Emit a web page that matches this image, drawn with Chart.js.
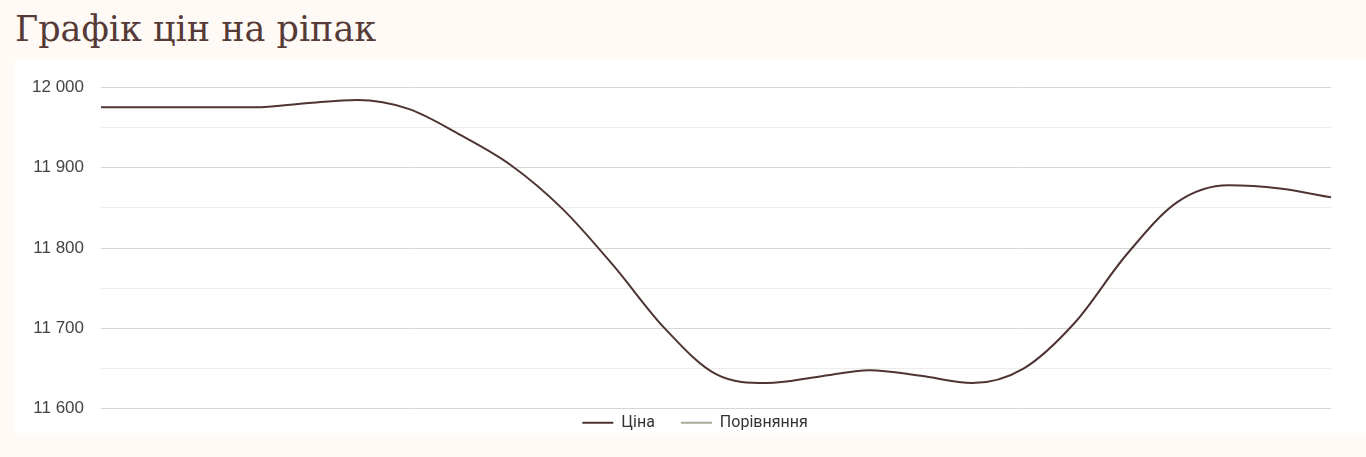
<!DOCTYPE html>
<html>
    <head>
        <meta charset="utf-8">
        <script src="https://cdn.jsdelivr.net/npm/chart.js"></script>
        <title>Графік цін на ріпак</title>
        <style>
            html, body { margin: 0; padding: 0; background: #fffaf5; }
            body { width: 1366px; height: 457px; overflow: hidden; position: relative; }
            h1 {
                position: absolute; left: 15px; top: 9px; margin: 0;
                font-family: "DejaVu Serif", serif; font-weight: normal;
                font-size: 35px; line-height: 40px; color: #553a37;
            }
            .card { position: absolute; left: 15px; top: 60px; width: 1351px; height: 373px; background: #fff; }
            .plot { position: absolute; left: 15px; top: 60px; width: 1351px; height: 376px; }
        </style>
    </head>
    <body>
        <h1>Графік цін на ріпак</h1>
        <div class="card"></div>
        <div class="plot">
            <canvas id="myChart"></canvas>
        </div>
        <script>
            // one point per day, x axis is hidden in the original
            const days = ['1', '2', '3', '4', '5', '6', '7', '8', '9', '10', '11', '12', '13',
                          '14', '15', '16', '17', '18', '19', '20', '21', '22', '23', '24', '25'];
            const prices = [11975, 11975, 11975, 11975, 11980, 11984, 11973, 11941, 11903, 11849, 11778, 11700, 11643,
                            11632, 11640, 11648, 11641, 11632, 11650, 11707, 11791, 11857, 11878, 11874, 11863];
            const compare = [];
            const seriesNames = ['Ціна', 'Порівняння'];
            const yTicks = [11600, 11700, 11800, 11900, 12000];

            const fmt = (v) => String(v).replace(/\B(?=(\d{3})+(?!\d))/g, ' ');

            // legend sits tight under the plot but keeps wide spacing between items
            const legendShift = {
                id: 'legendShift',
                afterUpdate(chart) {
                    const lg = chart.legend;
                    lg.top -= 20;
                    lg.bottom -= 20;
                    lg.left += 22;
                    lg.right += 22;
                }
            };

            let ctx = document.getElementById("myChart").getContext('2d');
            let thisChart = new Chart(ctx, {
                type: 'line',
                data: {
                    labels: days,
                    datasets: [{
                        label: seriesNames[0],
                        data: prices,
                        borderColor: '#4e3432',
                        backgroundColor: '#4e3432',
                        borderWidth: 2,
                        radius: 0,
                        cubicInterpolationMode: 'monotone'
                    },
                    {
                        label: seriesNames[1],
                        data: compare,
                        borderColor: '#a9aa97',
                        backgroundColor: '#a9aa97',
                        borderWidth: 2,
                        radius: 0
                    }]
                },
                options: {
                    responsive: true,
                    maintainAspectRatio: false,
                    animation: false,
                    layout: { padding: { top: 14, right: 35, left: 0, bottom: -33 } },
                    plugins: {
                        legend: {
                            position: 'bottom',
                            labels: {
                                usePointStyle: true,
                                pointStyle: 'line',
                                pointStyleWidth: 31,
                                padding: 26,
                                color: '#333',
                                font: { family: 'Roboto', size: 16 }
                            }
                        },
                        tooltip: { enabled: false }
                    },
                    scales: {
                        x: {
                            display: false
                        },
                        y: {
                            min: yTicks[0],
                            max: yTicks[yTicks.length - 1],
                            border: { display: false },
                            grid: {
                                drawTicks: false,
                                color: (c) => yTicks.includes(c.tick.value) ? '#d6d6d6' : '#ececec'
                            },
                            ticks: {
                                stepSize: 50,
                                padding: 17,
                                color: '#444',
                                font: { family: 'Liberation Sans', size: 17 },
                                callback: (v) => yTicks.includes(v) ? fmt(v) : ''
                            }
                        }
                    }
                },
                plugins: [legendShift]
            });
        </script>
    </body>
</html>
